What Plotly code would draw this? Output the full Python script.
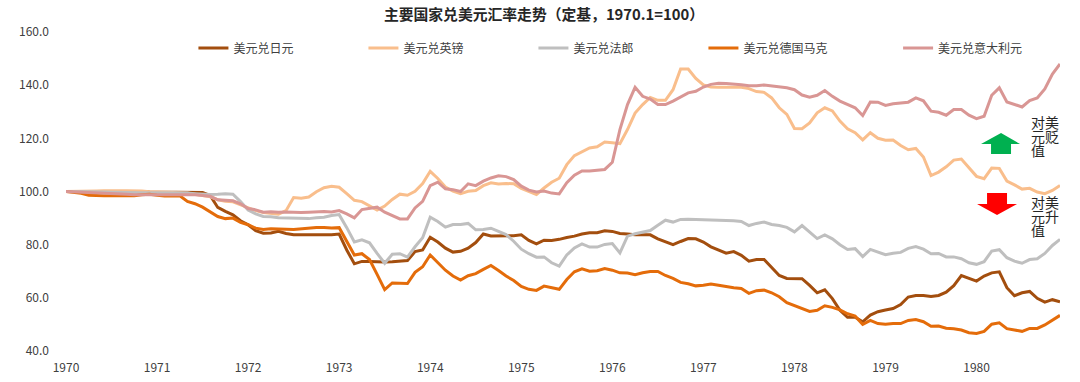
import plotly.graph_objects as go

years = list(range(1970, 1981))
months = [f"{y}.{m:02d}" for y in years for m in range(1, 13)]
tick_vals = [f"{y}.01" for y in years]
tick_text = [str(y) for y in years]

japan = [100,100,100,100.2,100.2,100.2,100.1,100,100,100,100,99.8,
 99.8,99.7,99.7,99.7,99.7,99.7,99.6,98.5,94,92.5,91.2,89,
 87.5,85.3,84.3,84.4,85,84.2,83.7,83.7,83.7,83.7,83.7,83.7,
 84,78,72.8,73.7,73.7,73.5,73.5,73.6,73.7,74,77.4,78,
 82.8,81,78.7,77.2,77.5,78.7,80.8,84,83.3,83.3,83.4,83.4,
 83.7,81.6,80.3,81.7,81.6,82,82.7,83.2,84,84.5,84.5,85.2,
 85,84.2,84,83.7,83.7,83.7,82.2,81,80,81.2,82.3,82.2,
 81,79.2,77.9,76.8,77.4,76,73.8,74.4,74.4,71.3,68.4,67.3,
 67.3,67.2,64.7,61.9,63,59.7,55.3,52.7,52.7,51,53.5,54.8,
 55.4,56,57.5,60.3,60.9,60.9,60.5,60.9,62.1,64.6,68.4,67.3,
 66.3,68.2,69.4,69.8,63.8,60.8,61.9,62.4,59.8,58.4,59.3,58.5]

uk = [100,100,100,100.1,100.2,100.3,100.4,100.3,100.3,100.3,100.2,99.9,
 99.8,99.6,99.5,99.5,99.4,99,98.5,98,96.9,96.3,96.1,95,
 93.6,92.8,92.1,91.7,91.5,92.8,97.7,97.5,97.9,99.9,101.4,102,
 101.6,99.2,96.7,96.2,94.6,93,94.5,97,99,98.6,100.1,103,
 107.6,104.9,101.7,100.1,99.2,100.1,100.4,102.2,103.3,102.8,103,102.9,
 101.2,99.9,98.9,101.3,103.5,105,110.1,113.5,115,116.4,116.8,118.6,
 118.3,118,123.3,129.5,132.7,135.4,134.3,134.3,138.3,146.1,146.1,142.5,
 140.1,139.3,139.2,139.2,139.2,139.2,138.7,137.6,137.3,135.2,131.5,129,
 123.7,123.6,125.8,129.6,131.5,130.3,126.5,123.6,122.1,119.4,122.1,120,
 119.3,119.4,117.3,115.7,116.2,113,106,107.3,109.3,111.8,112.2,108.9,
 105.7,104.8,108.8,108.7,103.9,102.5,100.9,101.2,99.8,99.2,100.4,102.3]

france = [100,100,100,100,100,99.8,99.7,99.6,99.5,99.5,99.5,99.5,
 99.5,99.5,99.5,99.5,99.4,99.2,99,98.9,99,99.2,99,96.2,
 93,91.6,90.6,90.5,90.1,90,89.8,89.8,89.8,90.1,90.3,91,
 91.3,86.4,81,81.8,80.7,76.7,73,76.4,76.6,75.3,79.2,82.6,
 90.3,88.7,86.6,87.6,87.6,88,85.6,85.7,86.2,85,83.8,81.3,
 78.3,76.6,75.3,75.4,73.2,71.9,76.1,78.8,80.3,79.1,79.1,80.1,
 80.4,76.9,83.2,84.1,84.7,85.3,87.3,89.2,88.5,89.5,89.6,89.5,
 89.4,89.5,89.4,89.1,89,88.7,87.2,88,88.5,87.6,87.2,86.5,
 84.8,87.2,84.8,82.3,83.7,82.2,80,78.2,78.5,75.5,78.2,77.3,
 76.2,76.8,77.1,78.6,79.3,78.3,76.6,76.7,75.4,75.4,74.7,73.2,
 72.6,73.6,77.6,78.1,75.1,73.8,73,74.4,74.7,76.7,79.7,82]

germany = [100,99.7,99.3,98.6,98.4,98.4,98.4,98.4,98.4,98.4,98.8,99,
 98.6,98.3,98.3,98.4,96.3,95.4,94.1,92.4,90.6,89.8,90,88.4,
 87.5,86.2,85.7,86,86,85.8,85.7,86,86.3,86.5,86.5,86.3,
 86.4,81.3,76.1,76.6,74.4,68.8,63.1,65.6,65.6,65.4,69.6,71.7,
 76.1,73.2,70.4,68.2,66.7,68.3,69.1,70.7,72.2,70.3,68.2,66.5,
 64.3,63.2,62.8,64.4,63.7,63.2,66.9,69.8,70.9,70,70.2,71,
 70.4,69.4,69.3,68.7,69.4,69.9,69.9,68.4,67.3,65.8,65.3,64.5,
 64.7,65.2,64.7,64.2,63.8,63.5,61.7,62.7,62.9,61.9,60.4,58.2,
 57.2,55.9,54.9,55.3,57,56.4,55.5,54,53.1,50,51.5,50.3,
 50.1,50.3,50.3,51.5,51.8,51,49.3,49.4,48.6,48.4,47.9,46.9,
 46.6,47.4,50.1,50.6,48.4,47.9,47.4,48.5,48.5,49.8,51.6,53.4]

italy = [100,99.9,99.7,99.6,99.6,99.5,99.4,99.2,99,98.8,98.8,98.9,
 99,99,98.9,98.9,98.9,98.8,98.5,98.2,96.9,96.6,96.5,95.4,
 93.6,93.1,92.2,92.4,92.2,92.3,92.1,92.1,92.2,92.3,92.5,92.3,
 92.8,91.6,90.1,93.2,93.6,94.1,92.2,90.9,89.7,89.7,93.8,96.3,
 102.2,103.5,101,100.7,100,102.9,102.2,103.9,105.1,105.9,105.6,104.5,
 102,100.5,99.8,100.2,99.4,99.1,103.3,106.1,107.7,107.7,107.9,108.3,
 111,123.3,132.7,139.2,135.8,134.8,132.7,132.7,134,135.6,137.1,137.7,
 139.3,140.3,140.7,140.6,140.5,140.2,139.8,139.8,140.1,139.7,139.2,139,
 138.3,136.3,135.5,136.2,138,135.8,134,132.6,131.5,128.6,133.7,133.6,
 132.4,133,133.3,133.6,135.2,134.1,130.2,129.8,128.7,130.8,130.8,128.7,
 127.4,128.3,136.2,139,133.7,132.7,131.8,134.2,135.2,138.6,144.2,148]

series = [
    ("美元兑日元", japan, "#A34E0E", "legend"),
    ("美元兑英镑", uk, "#F9BE8C", "legend"),
    ("美元兑法郎", france, "#BFBFBF", "legend"),
    ("美元兑德国马克", germany, "#E46C0A", "legend"),
    ("美元兑意大利元", italy, "#D99694", "legend2"),
]
for _, values, _, _ in series:
    assert len(values) == len(months)

W, H = 1080, 382
L, R, T, B = 65.5, 20, 32, 31
FONT = "Noto Sans CJK SC"
TEXT = "#404040"


def px(x):
    return (x - L) / (W - L - R)


def py(y):
    return 1 - (y - T) / (H - T - B)


def poly(points):
    return "M " + " L ".join(f"{px(x):.5f},{py(y):.5f}" for x, y in points) + " Z"


fig = go.Figure()
for name, values, color, legend in series:
    fig.add_trace(go.Scatter(
        x=months, y=values, name=name, mode="lines", legend=legend,
        line=dict(color=color, width=3), cliponaxis=False,
    ))

legend_common = dict(
    orientation="h", xanchor="left", yanchor="middle", bgcolor="rgba(0,0,0,0)",
    font=dict(family=FONT, size=12, color=TEXT), itemwidth=30,
    traceorder="normal",
)

fig.update_layout(
    width=W, height=H, autosize=False,
    margin=dict(l=L, r=R, t=T, b=B, pad=0),
    paper_bgcolor="white", plot_bgcolor="white",
    font=dict(family=FONT, size=12, color=TEXT),
    title=dict(
        text="<b>主要国家兑美元汇率走势（定基，1970.1=100）</b>",
        x=544 / W, xanchor="center", y=1 - 15 / H, yanchor="middle",
        font=dict(family=FONT, size=14.8, color="#262626"),
    ),
    legend=dict(x=px(193), y=py(48), entrywidthmode="pixels", entrywidth=125, **legend_common),
    legend2=dict(x=px(898), y=py(48), **legend_common),
    xaxis=dict(
        type="category", categoryorder="array", categoryarray=months,
        range=[0, len(months) - 1], automargin=False,
        tickmode="array", tickvals=tick_vals, ticktext=tick_text,
        showgrid=False, showline=False, zeroline=False, ticks="",
        ticklabelstandoff=8, tickfont=dict(family=FONT, size=12, color=TEXT),
    ),
    yaxis=dict(
        range=[40, 160], tickmode="array", tickvals=list(range(40, 161, 20)),
        tickformat=".1f", showgrid=False, showline=False, zeroline=False, ticks="",
        automargin=False,
        ticklabelstandoff=16, tickfont=dict(family=FONT, size=12, color=TEXT),
    ),
    shapes=[
        dict(type="path", xref="paper", yref="paper", line=dict(width=0), fillcolor="#00B050",
             path=poly([(1001, 133), (1020, 144), (1011, 144), (1011, 154), (991, 154), (991, 144), (981, 144)])),
        dict(type="path", xref="paper", yref="paper", line=dict(width=0), fillcolor="#FF0000",
             path=poly([(987, 193), (1007, 193), (1007, 204), (1017, 204), (997, 215), (977, 204), (987, 204)])),
    ],
)

side_notes = [("对美", 122.5), ("元贬", 136.5), ("值", 150.5), ("对美", 202.5), ("元升", 216.5), ("值", 230.5)]
for text, y in side_notes:
    fig.add_annotation(
        text=text, xref="paper", yref="paper", x=px(1030), y=py(y), xanchor="left", yanchor="middle",
        showarrow=False, borderpad=0,
        font=dict(family="Liberation Sans, " + FONT, size=14, color="#262626"),
    )

# The page's default body margin would push the figure 8 px off the window corner.
fig.write_html("out.html", config={"displayModeBar": False},
               post_script="document.body.style.margin = '0';")
